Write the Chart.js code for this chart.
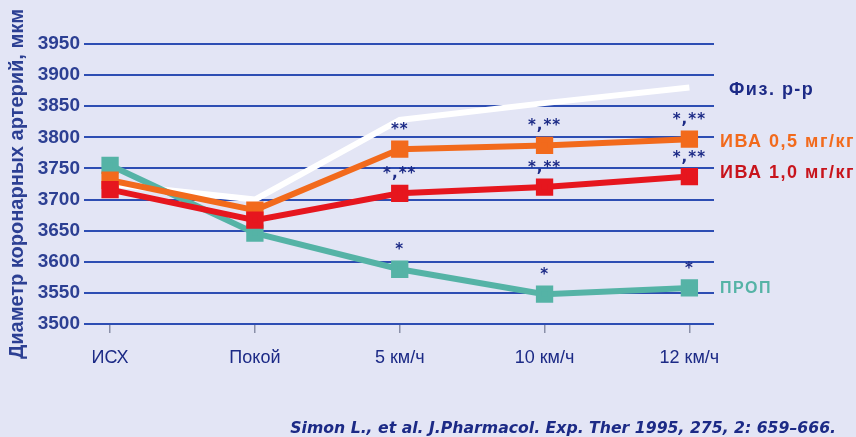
<!DOCTYPE html>
<html>
<head>
<meta charset="utf-8">
<script src="https://cdn.jsdelivr.net/npm/chart.js@4.4.0/dist/chart.umd.min.js"></script>
<style>
  html, body { margin: 0; padding: 0; background: #e3e5f5; }
  #wrap { width: 856px; height: 437px; position: relative; }
</style>
</head>
<body>
<div id="wrap"><canvas id="myChart" width="856" height="437"></canvas></div>
<script>
// ===================== Data =====================
const categories = ["ИСХ", "Покой", "5 км/ч", "10 км/ч", "12 км/ч"];
const yTicks = [3500, 3550, 3600, 3650, 3700, 3750, 3800, 3850, 3900, 3950];

const saline = [3725, 3700, 3828, 3855, 3880];     // Физ. р-р
const iva05 = [3731, 3683, 3781, 3787, 3797];      // ИВА 0,5 мг/кг
const iva10 = [3716, 3667, 3710, 3720, 3737];      // ИВА 1,0 мг/кг
const prop = [3755, 3646, 3588, 3548, 3558];       // ПРОП

// significance marks: [series, category index, text, above?]
const marks = [
    ["iva05", 2, "**", true],
    ["iva10", 2, "*,**", true],
    ["prop", 2, "*", true],
    ["iva05", 3, "*,**", true],
    ["iva10", 3, "*,**", true],
    ["prop", 3, "*", true],
    ["iva05", 4, "*,**", true],
    ["iva05", 4, "*,**", false],
    ["prop", 4, "*", true],
];
// ===================== Data =====================

const navy = "#1c2a86";
const toPoints = arr => arr.map((v, i) => ({ x: i, y: v }));

function series(label, key, data, color, showPts, order) {
    return {
        label: label,
        key: key,
        order: order, // higher order is drawn underneath
        data: toPoints(data),
        borderColor: color,
        backgroundColor: color,
        borderWidth: 6,
        pointStyle: "rect",
        pointRadius: showPts ? 8 : 0,
        pointHoverRadius: showPts ? 8 : 0,
        tension: 0,
    };
}

const datasets = [
    series("Физ. р-р", "saline", saline, "#ffffff", false, 4),
    series("ПРОП", "prop", prop, "#55b3a6", true, 3),
    series("ИВА 0,5 мг/кг", "iva05", iva05, "#f26a1c", true, 2),
    series("ИВА 1,0 мг/кг", "iva10", iva10, "#e6161e", true, 1),
];
const labelColors = {
    saline: navy, prop: "#55b3a6", iva05: "#f26a1c", iva10: "#c8141c"
};
const labelOffsets = { saline: 2, prop: 1, iva05: 3, iva10: -4 };

// background + right-hand labels + asterisks
const extras = {
    id: "extras",
    beforeDraw(chart) {
        const c = chart.ctx;
        c.save();
        c.fillStyle = "#e3e5f5";
        c.fillRect(0, 0, chart.width, chart.height);
        c.restore();
    },
    afterDatasetsDraw(chart) {
        const c = chart.ctx;
        const xs = chart.scales.x, ys = chart.scales.y;
        c.save();
        // series names
        c.textBaseline = "middle";
        c.textAlign = "left";
        c.letterSpacing = "1.5px";
        chart.data.datasets.forEach(ds => {
            const last = ds.data[ds.data.length - 1];
            const y = ys.getPixelForValue(last.y) + labelOffsets[ds.key];
            c.font = (ds.key === "prop" ? "bold 16px" : "bold 18px") + " 'Liberation Sans', Arial, sans-serif";
            c.fillStyle = labelColors[ds.key];
            c.fillText(ds.label, xs.right + (ds.key === "saline" ? 15 : 6), y);
        });
        // asterisks
        c.letterSpacing = "1px";
        c.font = "bold 15px 'DejaVu Sans', sans-serif";
        c.fillStyle = navy;
        c.textAlign = "center";
        marks.forEach(m => {
            const ds = chart.data.datasets.find(d => d.key === m[0]);
            const pt = ds.data[m[1]];
            const x = xs.getPixelForValue(pt.x);
            const y = ys.getPixelForValue(pt.y) + (m[3] ? -19 : 19);
            c.fillText(m[2], x, y);
        });
        // citation
        c.letterSpacing = "0px";
        c.font = "italic bold 15.7px 'DejaVu Sans', sans-serif";
        c.textAlign = "right";
        c.textBaseline = "alphabetic";
        c.fillText("Simon L., et al. J.Pharmacol. Exp. Ther 1995, 275, 2: 659–666.", 836, 433);
        c.restore();
    }
};

const ctx = document.getElementById("myChart").getContext("2d");
const chart = new Chart(ctx, {
    type: "line",
    data: { datasets: datasets },
    options: {
        responsive: false,
        animation: false,
        layout: { padding: { left: 0, right: 142, top: 44, bottom: 0 } },
        plugins: {
            legend: { display: false },
            tooltip: { enabled: false },
        },
        scales: {
            x: {
                type: "linear",
                min: -0.18,
                max: 4.17,
                afterBuildTicks: s => { s.ticks = categories.map((c, i) => ({ value: i })); },
                afterFit: s => { s.height = 113; },
                border: { display: false },
                grid: {
                    drawOnChartArea: false,
                    drawTicks: true,
                    tickLength: 9,
                    color: "#8a8fa8",
                    lineWidth: 1.5,
                },
                ticks: {
                    padding: 14,
                    color: navy,
                    font: { size: 18, family: "'Liberation Sans', Arial, sans-serif" },
                    callback: v => categories[v],
                },
            },
            y: {
                min: 3500,
                max: 3950,
                afterBuildTicks: s => { s.ticks = yTicks.map(v => ({ value: v })); },
                afterFit: s => { s.width = 84; },
                border: { display: false },
                grid: {
                    color: "#2d4db3",
                    lineWidth: 2,
                    drawTicks: false,
                },
                ticks: {
                    padding: 4,
                    color: "#2c3f93",
                    font: { size: 19, weight: "bold", family: "'Liberation Sans', Arial, sans-serif" },
                    callback: v => String(v),
                },
                title: {
                    display: true,
                    text: "Диаметр коронарных артерий, мкм",
                    color: "#2c3f93",
                    padding: { top: 5, bottom: 0 },
                    font: { size: 20, weight: "bold", family: "'Liberation Sans', Arial, sans-serif" },
                },
            },
        },
    },
    plugins: [extras],
});
</script>
</body>
</html>
